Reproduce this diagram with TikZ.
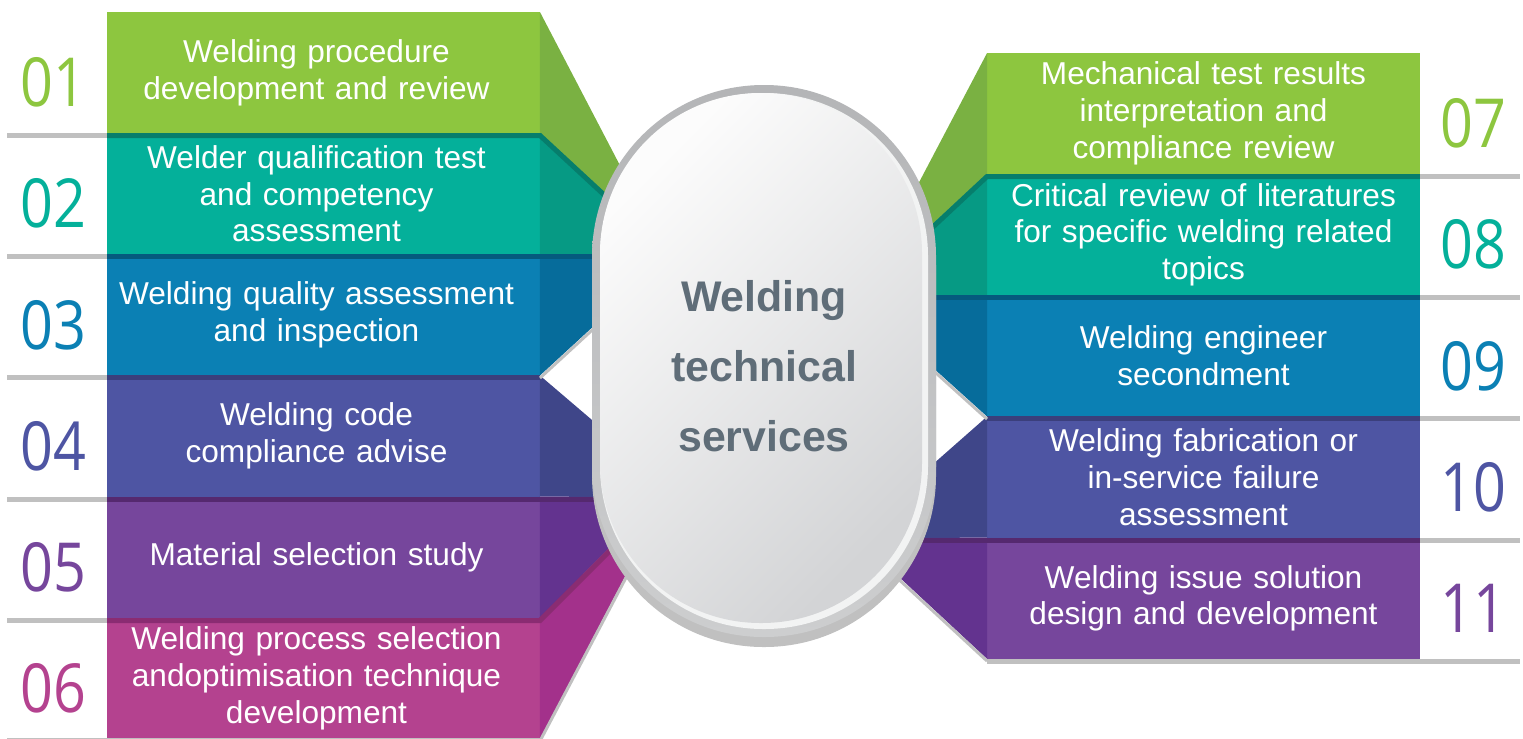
\documentclass[tikz,border=0pt]{standalone}
\usepackage{xcolor}
\usepackage{fontspec}
\setmainfont{Liberation Sans}
\newfontfamily\numfont[FakeStretch=0.85]{Open Sans}
\usepackage{tikz}
\usetikzlibrary{positioning}

\definecolor{grnbox}{HTML}{8DC63F}
\definecolor{grnwedge}{HTML}{7AB142}
\definecolor{tealbox}{HTML}{04B09A}
\definecolor{tealwedge}{HTML}{069A84}
\definecolor{tealband}{HTML}{067E6C}
\definecolor{bluebox}{HTML}{0B80B4}
\definecolor{bluewedge}{HTML}{066C9B}
\definecolor{blueband}{HTML}{055A7E}
\definecolor{indbox}{HTML}{4E55A3}
\definecolor{indwedge}{HTML}{3F4689}
\definecolor{indband}{HTML}{3B3F7C}
\definecolor{purbox}{HTML}{76469C}
\definecolor{purwedge}{HTML}{63338F}
\definecolor{purband}{HTML}{55296F}
\definecolor{magbox}{HTML}{B4428F}
\definecolor{magwedge}{HTML}{A3318B}
\definecolor{magband}{HTML}{8A2C72}
\definecolor{sepgray}{HTML}{C0C0C0}
\definecolor{ringtop}{HTML}{B4B5B7}
\definecolor{ringbot}{HTML}{CDCECF}
\definecolor{rimwhite}{HTML}{F2F3F3}
\definecolor{hubtop}{HTML}{FCFCFC}
\definecolor{hubbot}{HTML}{D3D4D6}
\definecolor{hubtext}{HTML}{5F6D78}

\newcommand\leftcentred{\leftskip=0pt plus 1fil\rightskip=0.28cm plus 1fil\parfillskip=0pt\let\\\par}

\tikzstyle{block} = [rectangle, inner sep=0pt, outer sep=0pt,
    minimum width=8.66cm, minimum height=2.424cm, text width=8.4cm,
    align=center, text=white, font=\fontsize{18}{21}\selectfont]
\tikzstyle{lblock} = [block, execute at begin node=\leftcentred]
\tikzstyle{num} = [inner sep=0pt, minimum width=1.2cm,
    font=\numfont\fontsize{38.5}{40}\selectfont]
\tikzstyle{band} = [line width=0.1cm]
\tikzstyle{sep} = [draw=sepgray, line width=0.1cm]
\tikzstyle{shadowline} = [draw=sepgray, line width=0.06cm]

\begin{document}
\begin{tikzpicture}[x=0.02cm, y=-0.02cm]
        \useasboundingbox (0,0) rectangle (1523,738);

        % Left column
        \node [lblock, fill=grnbox] (b1) at (323.5,72.6) {Welding procedure\\development and review};
        \node [lblock, fill=tealbox, below=0pt of b1] (b2) {Welder qualification test\\and competency\\assessment};
        \node [lblock, fill=bluebox, below=0pt of b2] (b3) {Welding quality assessment\\and inspection};
        \node [lblock, fill=indbox, below=0pt of b3] (b4) {Welding code\\compliance advise};
        \node [lblock, fill=purbox, below=0pt of b4] (b5) {Material selection study};
        \node [lblock, fill=magbox, below=0pt of b5] (b6) {Welding process selection\\andoptimisation technique\\development};

        % Right column
        \node [block, fill=grnbox] (b7) at (1203.5,113.6) {Mechanical test results\\interpretation and\\compliance review};
        \node [block, fill=tealbox, below=0pt of b7] (b8) {Critical review of literatures\\for specific welding related\\topics};
        \node [block, fill=bluebox, below=0pt of b8] (b9) {Welding engineer\\secondment};
        \node [block, fill=indbox, below=0pt of b9] (b10) {Welding fabrication or\\in-service failure\\assessment};
        \node [block, fill=purbox, below=0pt of b10] (b11) {Welding issue solution\\design and development};

        % Numbers
        \node [num, text=grnbox, left=0.41cm of b1, yshift=-0.2cm] (n1) {01};
        \node [num, text=tealbox, left=0.41cm of b2, yshift=-0.2cm] (n2) {02};
        \node [num, text=bluebox, left=0.41cm of b3, yshift=-0.2cm] (n3) {03};
        \node [num, text=indbox, left=0.41cm of b4, yshift=-0.2cm] (n4) {04};
        \node [num, text=purbox, left=0.41cm of b5, yshift=-0.2cm] (n5) {05};
        \node [num, text=magbox, left=0.41cm of b6, yshift=-0.2cm] (n6) {06};
        \node [num, text=grnbox, right=0.40cm of b7, yshift=-0.2cm] (n7) {07};
        \node [num, text=tealbox, right=0.40cm of b8, yshift=-0.2cm] (n8) {08};
        \node [num, text=bluebox, right=0.40cm of b9, yshift=-0.2cm] (n9) {09};
        \node [num, text=indbox, right=0.40cm of b10, yshift=-0.2cm] (n10) {10};
        \node [num, text=purbox, right=0.40cm of b11, yshift=-0.2cm] (n11) {11};

        % Wedges towards the hub
        \fill [grnwedge] (b1.north east) -- (662,246) -- (b1.south east) -- cycle;
        \fill [tealwedge] (b2.north east) -- (662,246) -- (662,254.4) -- (b2.south east) -- cycle;
        \fill [bluewedge] (b3.north east) -- (660,254.4) -- (660,265) -- (b3.south east) -- cycle;
        \fill [indwedge] (b4.north east) -- (660,478) -- (660,496.8) -- (b4.south east) -- cycle;
        \fill [purwedge] (b5.north east) -- (660,496.8) -- (b5.south east) -- cycle;
        \fill [magwedge] (b6.north east) -- (672,487) -- (b6.south east) -- cycle;
        \fill [grnwedge] (b7.north west) -- (864,287) -- (b7.south west) -- cycle;
        \fill [tealwedge] (b8.north west) -- (864,287) -- (864,295.4) -- (b8.south west) -- cycle;
        \fill [bluewedge] (b9.north west) -- (870,295.4) -- (870,311) -- (b9.south west) -- cycle;
        \fill [indwedge] (b10.north west) -- (870,519.6) -- (870,537.8) -- (b10.south west) -- cycle;
        \fill [purwedge] (b11.north west) -- (870,537.8) -- (870,550) -- (b11.south west) -- cycle;

        % Bands between the rows
        \draw [band, tealband] (107,135.5) -- (540,135.5) -- (655,242);
        \draw [band, blueband] (107,256.5) -- (658,256.5);
        \draw [band, indband] (107,377.5) -- (540,377.5);
        \draw [band, purband] (107,499) -- (658,499);
        \draw [band, magband] (107,620.5) -- (540,620.5) -- (640,520.5);
        \draw [band, tealband] (1420,176.5) -- (987,176.5) -- (868,287.5);
        \draw [band, blueband] (1420,297.5) -- (872,297.5);
        \draw [band, indband] (1420,418.5) -- (987,418.5);
        \draw [band, purband] (1420,540) -- (872,540);

        % Separators and shadows
        \draw [sep] (7,135.5) -- (107,135.5);
        \draw [sep] (7,256.5) -- (107,256.5);
        \draw [sep] (7,377.5) -- (107,377.5);
        \draw [sep] (7,499) -- (107,499);
        \draw [sep] (7,620.5) -- (107,620.5);
        \draw [sep] (7,740) -- (540,740);
        \draw [sep] (1420,176.5) -- (1520,176.5);
        \draw [sep] (1420,297.5) -- (1520,297.5);
        \draw [sep] (1420,418.5) -- (1520,418.5);
        \draw [sep] (1420,540) -- (1520,540);
        \draw [sep] (987,661) -- (1520,661);
        \draw [shadowline] (540,378) -- (615,309);
        \draw [shadowline] (540,741) -- (640,551);
        \draw [shadowline] (987,419) -- (895,336);
        \draw [shadowline] (987,661) -- (880,562);

        % Hub
        \fill [sepgray, rounded corners=3.43cm] (592,95) rectangle (936,647);
        \shade [top color=ringtop, bottom color=ringbot, rounded corners=3.43cm] (592,85) rectangle (936,637);
        \fill [rimwhite, rounded corners=3.27cm] (600,93) rectangle (928,629);
        \shade [top color=hubtop, bottom color=hubbot, shading angle=45, rounded corners=3.21cm] (600,93) rectangle (922,623);
        \node [align=center, text=hubtext, font=\bfseries\fontsize{24.4}{40}\selectfont] (hub) at (764,366) {Welding\\technical\\services};
    \end{tikzpicture}
\end{document}
